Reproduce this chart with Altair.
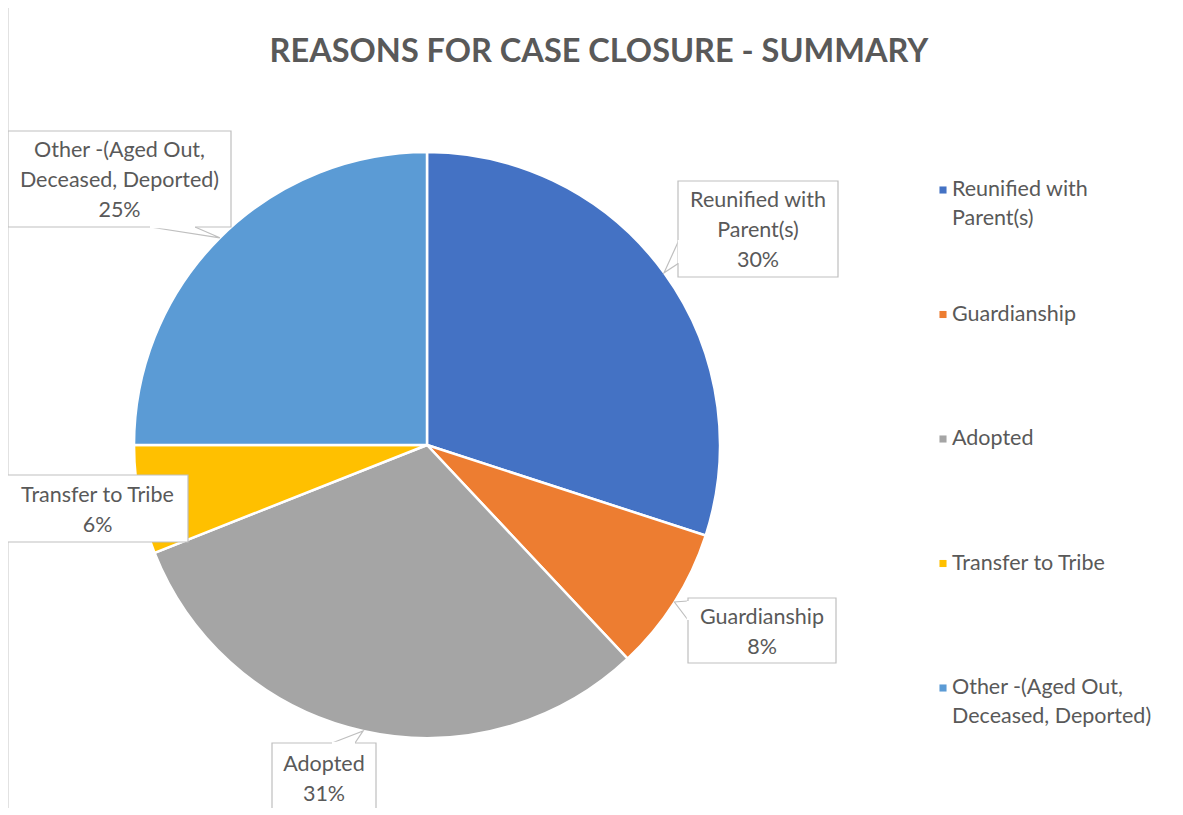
import math
import altair as alt
import pandas as pd

# ---------------- data ----------------
categories = [
    "Reunified with Parent(s)",
    "Guardianship",
    "Adopted",
    "Transfer to Tribe",
    "Other -(Aged Out, Deceased, Deported)",
]
values = [30, 8, 31, 6, 25]
wrapped_labels = [
    ["Reunified with", "Parent(s)"],
    ["Guardianship"],
    ["Adopted"],
    ["Transfer to Tribe"],
    ["Other -(Aged Out,", "Deceased, Deported)"],
]
colors = ["#4472C4", "#ED7D31", "#A5A5A5", "#FFC000", "#5B9BD5"]
title_text = "REASONS FOR CASE CLOSURE - SUMMARY"

# ---------------- layout (styles / positions, chart coords = page - 8) ----------------
W, H = 1167, 800
OFF = 8
CX, CY, R = 427 - OFF, 445 - OFF, 293
TEXT_COLOR = "#595959"
FONT = "Lato"
LABEL_SIZE = 21.5
LINE_H = 30
# callout boxes (page coords): x1, y1, x2, y2
boxes = [
    (678, 181, 838, 277),
    (688, 598, 836, 663),
    (272, 743, 376, 812),
    (7, 475, 188, 542),
    (8, 131, 231, 227),
]
# tail base points on box edge (page coords)
tail_bases = [
    ((679, 240), (679, 263)),
    ((688, 601), (688, 620)),
    ((332, 743), (355, 743)),
    None,
    ((150, 227), (195, 227)),
]
LEG_X, LEG_Y0, LEG_STEP = 943 - OFF, 190 - OFF, 124.5

total = sum(values)

# pie
pie_df = pd.DataFrame({"category": categories, "value": values, "order": range(len(values))})

# callout geometry
box_rows, text_rows, tail_rows, gap_rows = [], [], [], []
cum = 0
for i, (cat, v) in enumerate(zip(categories, values)):
    mid = (cum + v / 2) / total * 2 * math.pi
    cum += v
    tip = (CX + R * math.sin(mid), CY - R * math.cos(mid))
    x1, y1, x2, y2 = [c - OFF for c in boxes[i]]
    box_rows.append({"x": x1, "x2": x2, "y": y1, "y2": y2})
    lines = wrapped_labels[i] + [f"{v / total * 100:.0f}%"]
    cxb, cyb = (x1 + x2) / 2, (y1 + y2) / 2
    n = len(lines)
    for k, t in enumerate(lines):
        text_rows.append({"text": t, "x": cxb, "y": cyb + (k - (n - 1) / 2) * LINE_H})
    if tail_bases[i] is not None:
        (bx1, by1), (bx2, by2) = tail_bases[i]
        pts = [(bx1 - OFF, by1 - OFF), tip, (bx2 - OFF, by2 - OFF)]
        for k, (px, py) in enumerate(pts):
            tail_rows.append({"id": i, "ord": k, "x": px, "y": py})
        gap_rows.append({"x": bx1 - OFF, "x2": bx2 - OFF, "y": by1 - OFF, "y2": by2 - OFF})

box_df = pd.DataFrame(box_rows)
text_df = pd.DataFrame(text_rows)
tail_df = pd.DataFrame(tail_rows)
gap_df = pd.DataFrame(gap_rows)

leg_sym_rows, leg_text_rows = [], []
for i, cat in enumerate(categories):
    y = LEG_Y0 + i * LEG_STEP
    leg_sym_rows.append({"category": cat, "x": LEG_X, "y": y})
    for k, t in enumerate(wrapped_labels[i]):
        leg_text_rows.append({"text": t, "x": LEG_X + 9, "y": y + k * 29})
leg_sym_df = pd.DataFrame(leg_sym_rows)
leg_text_df = pd.DataFrame(leg_text_rows)

color_scale = alt.Scale(domain=categories, range=colors)
X = lambda f: alt.X(f, scale=None, axis=None)
Y = lambda f: alt.Y(f, scale=None, axis=None)

border_left = alt.Chart(pd.DataFrame({"a": [0]})).mark_rule(color="#D9D9D9", strokeWidth=1.5).encode(
    x=alt.value(0), y=alt.value(-1), y2=alt.value(H)
)
border_top = alt.Chart(pd.DataFrame({"a": [0]})).mark_rule(color="#D9D9D9", strokeWidth=1.5).encode(
    x=alt.value(0), x2=alt.value(W), y=alt.value(-1)
)

title = alt.Chart(pd.DataFrame({"t": [title_text]})).mark_text(
    font=FONT, fontSize=32.5, fontWeight="bold", color=TEXT_COLOR, align="center", baseline="middle"
).encode(text="t:N", x=alt.value(599 - OFF), y=alt.value(52 - OFF))

pie = alt.Chart(pie_df).mark_arc(outerRadius=R, stroke="white", strokeWidth=2.5).encode(
    theta=alt.Theta("value:Q", stack=True),
    color=alt.Color("category:N", scale=color_scale, legend=None),
    order=alt.Order("order:Q"),
    x=alt.value(CX),
    y=alt.value(CY),
)

boxes_layer = alt.Chart(box_df).mark_rect(fill="white", stroke="#BFBFBF", strokeWidth=1.2).encode(
    x=X("x:Q"), x2="x2:Q", y=Y("y:Q"), y2="y2:Q"
)
gaps_layer = alt.Chart(gap_df).mark_rule(color="white", strokeWidth=2.5).encode(
    x=X("x:Q"), x2="x2:Q", y=Y("y:Q"), y2="y2:Q"
)
tails_layer = alt.Chart(tail_df).mark_line(color="#BFBFBF", strokeWidth=1.2).encode(
    x=X("x:Q"), y=Y("y:Q"), detail="id:N", order="ord:Q"
)
label_text = alt.Chart(text_df).mark_text(
    font=FONT, fontSize=LABEL_SIZE, color=TEXT_COLOR, align="center", baseline="middle", dy=2
).encode(x=X("x:Q"), y=Y("y:Q"), text="text:N")

leg_sym = alt.Chart(leg_sym_df).mark_square(size=50, opacity=1).encode(
    x=X("x:Q"), y=Y("y:Q"), color=alt.Color("category:N", scale=color_scale, legend=None)
)
leg_text = alt.Chart(leg_text_df).mark_text(
    font=FONT, fontSize=LABEL_SIZE, color=TEXT_COLOR, align="left", baseline="middle"
).encode(x=X("x:Q"), y=Y("y:Q"), text="text:N")

chart = alt.layer(
    border_left, border_top, title, pie, tails_layer, boxes_layer, gaps_layer, label_text, leg_sym, leg_text
).properties(
    width=W, height=H, autosize=alt.AutoSizeParams(type="none"), padding=0
).configure_view(stroke=None)

chart.save("out.html", embed_options={"renderer": "svg", "actions": False})
